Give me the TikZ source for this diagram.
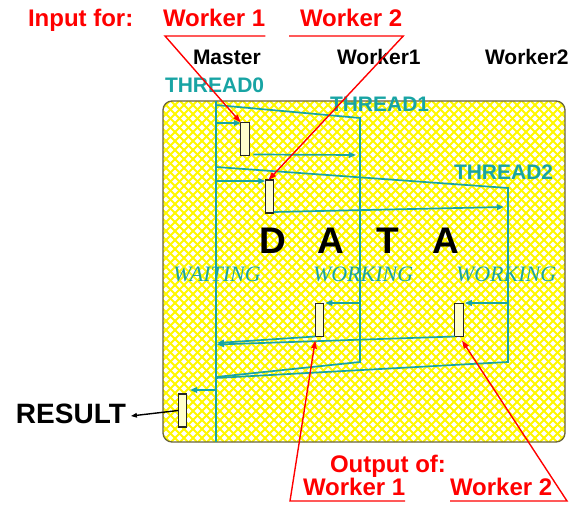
\documentclass[tikz,border=0pt]{standalone}
\usepackage{fontspec}
\setmainfont{Liberation Sans}
\newfontfamily\timesit{Liberation Serif}
\usetikzlibrary{arrows.meta}
\definecolor{tealc}{RGB}{24,164,164}
\definecolor{hatch}{RGB}{255,248,0}
\definecolor{frame}{RGB}{105,100,60}
\definecolor{redc}{RGB}{255,0,0}
\begin{document}
\begin{tikzpicture}[x=1pt,y=-1pt,
  lbl/.style={anchor=base west,inner sep=0pt,outer sep=0pt},
  redbig/.style={lbl,text=redc,font=\fontsize{24}{24}\selectfont\bfseries},
  colname/.style={lbl,text=black,font=\fontsize{21}{21}\selectfont\bfseries},
  threadname/.style={lbl,text=tealc,font=\fontsize{21}{21}\selectfont\bfseries},
  statename/.style={lbl,text=tealc,font=\fontsize{22}{22}\selectfont\timesit\itshape},
  slot/.style={draw=black!85,line width=1.4pt,fill=hatch!20,minimum width=8.5pt,minimum height=33pt,inner sep=0pt,outer sep=0pt},
  tline/.style={draw=tealc,line width=1.7pt},
  tarrow/.style={tline,-{Triangle[length=7pt,width=5.5pt]}},
  rarrow/.style={draw=redc,line width=1.4pt,-{Triangle[length=8pt,width=5.5pt]}},
]
\useasboundingbox (0,0) rectangle (576,505);
\fill[white] (0,0) rectangle (576,505);

% data area with crosshatch
\fill[white,rounded corners=9pt] (163,101) rectangle (565,442);
\begin{scope}
  \clip[rounded corners=9pt] (163,101) rectangle (565,442);
  \foreach \i in {-180,-171,...,580} {
    \draw[hatch,line width=1.9pt] (\i,101) -- ++(341,341);
    \draw[hatch,line width=1.9pt] (\i,442) -- ++(341,-341);
  }
\end{scope}
\draw[frame,line width=1.3pt,rounded corners=9pt] (163,101) rectangle (565,442);

% labels
\node[redbig] (inputfor) at (28,27) {Input for:};
\node[redbig] (inw1) at (163,27) {Worker 1};
\node[redbig] (inw2) at (300,27) {Worker 2};
\node[colname] (master) at (193,65) {Master};
\node[colname] (worker1) at (337,65) {Worker1};
\node[colname] (worker2) at (485,65) {Worker2};
\node[threadname] (th0) at (165,93) {THREAD0};
\node[threadname] (th1) at (330,112) {THREAD1};
\node[threadname] (th2) at (454,180) {THREAD2};
\node[lbl,font=\fontsize{37}{37}\selectfont\bfseries] (data) at (244,254)
  {\makebox[57.7pt]{D}\makebox[57.7pt]{A}\makebox[57.7pt]{T}\makebox[57.7pt]{A}};
\node[statename] (waiting) at (173,282) {WAITING};
\node[statename] (working1) at (313,282) {WORKING};
\node[statename] (working2) at (456,282) {WORKING};
\node[lbl,font=\fontsize{28}{28}\selectfont\bfseries] (result) at (16,423) {RESULT};
\node[redbig] (outof) at (330,472) {Output of:};
\node[redbig] (outw1) at (303,495) {Worker 1};
\node[redbig] (outw2) at (450,495) {Worker 2};

% slots
\node[slot] (boxA) at (245,139) {};
\node[slot] (boxB) at (269.5,196.5) {};
\node[slot] (boxC) at (319.5,320) {};
\node[slot] (boxD) at (459,320) {};
\node[slot] (boxE) at (182.5,410.5) {};

% thread lines
\coordinate (mtop) at (216,101);
\coordinate (mbot) at (216,442);
\draw[tline] (mtop) -- (mbot);
\coordinate (t1s) at (216,105);
\coordinate (t1a) at (360,118);
\coordinate (t1b) at (360,362);
\coordinate (t1e) at (216,377);
\draw[tline] (t1s) -- (t1a) -- (t1b) -- (t1e);
\coordinate (t2s) at (216,167);
\coordinate (t2a) at (508,188);
\coordinate (t2b) at (508,362);
\coordinate (t2e) at (216,378);
\draw[tline] (t2s) -- (t2a) -- (t2b) -- (t2e);

% teal arrows
\coordinate (m1) at (216,123);
\draw[tarrow] (m1) -- (m1 -| boxA.west);
\coordinate (w1in) at (356,155);
\draw[tarrow] ([xshift=4pt,yshift=1pt]boxA.south east) -- (w1in);
\coordinate (m2) at (216,181);
\draw[tarrow] (m2) -- (m2 -| boxB.west);
\coordinate (w2in) at (504,207);
\draw[tarrow] ([yshift=1pt]boxB.south east) -- (w2in);
\coordinate (w1o) at (360,303);
\draw[tarrow] (w1o) -- ([xshift=1.5pt]w1o -| boxC.east);
\coordinate (w2o) at (508,303);
\draw[tarrow] (w2o) -- ([xshift=1.5pt]w2o -| boxD.east);
\coordinate (mC) at (217,343);
\coordinate (mD) at (217,344.5);
\draw[tarrow] (boxC.south west) -- (mC);
\draw[tarrow] (boxD.south west) -- (mD);
\coordinate (m3) at (216,390);
\coordinate (eTip) at (190,390);
\draw[tarrow] (m3) -- (eTip);
\draw[black,line width=1.4pt,-{Triangle[length=6pt,width=4.5pt]}] (boxE.west) -- ([xshift=5pt,yshift=7pt]result.base east);

% red connectors
\draw[rarrow] (inw1.base east |- 0,36) -- ([xshift=2pt]inw1.base west |- 0,36) -- (boxA.north west);
\coordinate (w2ul) at (289,36);
\draw[rarrow] (w2ul) -- ([xshift=1pt]inw2.base east |- 0,36) -- ([xshift=-1pt]boxB.north);
\coordinate (o1ul) at (405,501);
\draw[rarrow] (o1ul) -- (290,501) -- ([yshift=-4pt]boxC.south west);
\coordinate (o2ul) at (450,501);
\draw[rarrow] (o2ul) -- (567,501) -- ([yshift=-4pt,xshift=3pt]boxD.south);
\end{tikzpicture}
\end{document}
